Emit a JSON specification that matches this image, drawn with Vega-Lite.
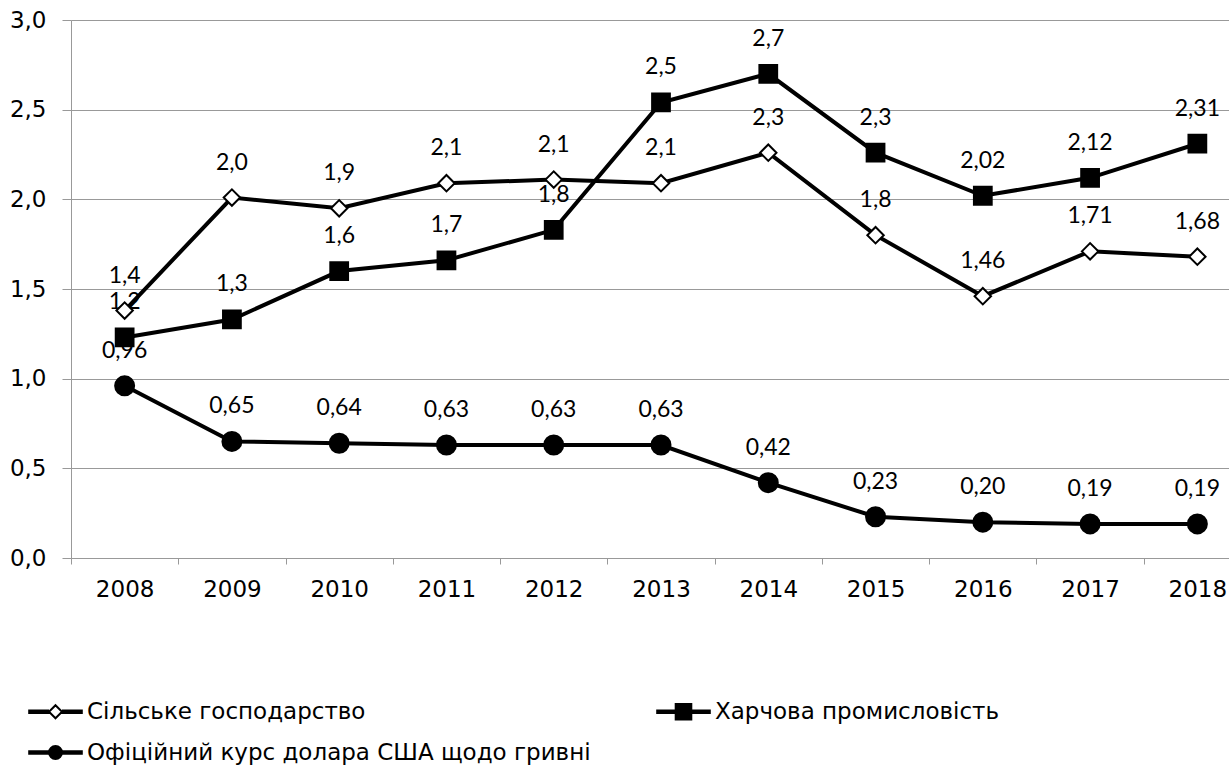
{
  "$schema": "https://vega.github.io/schema/vega-lite/v6.json",
  "width": 1180,
  "height": 538,
  "autosize": {"type": "none"},
  "padding": {"left": 71, "top": 20, "right": 0, "bottom": 207},
  "background": "white",
  "config": {"view": {"stroke": null}, "font": "DejaVu Sans"},
  "data": {
    "values": [
      {"year": "2008", "series": "Сільське господарство", "value": 1.38, "label": "1,4"},
      {"year": "2009", "series": "Сільське господарство", "value": 2.01, "label": "2,0"},
      {"year": "2010", "series": "Сільське господарство", "value": 1.95, "label": "1,9"},
      {"year": "2011", "series": "Сільське господарство", "value": 2.09, "label": "2,1"},
      {"year": "2012", "series": "Сільське господарство", "value": 2.11, "label": "2,1"},
      {"year": "2013", "series": "Сільське господарство", "value": 2.09, "label": "2,1"},
      {"year": "2014", "series": "Сільське господарство", "value": 2.26, "label": "2,3"},
      {"year": "2015", "series": "Сільське господарство", "value": 1.80, "label": "1,8"},
      {"year": "2016", "series": "Сільське господарство", "value": 1.46, "label": "1,46"},
      {"year": "2017", "series": "Сільське господарство", "value": 1.71, "label": "1,71"},
      {"year": "2018", "series": "Сільське господарство", "value": 1.68, "label": "1,68"},
      {"year": "2008", "series": "Харчова промисловість", "value": 1.23, "label": "1,2"},
      {"year": "2009", "series": "Харчова промисловість", "value": 1.33, "label": "1,3"},
      {"year": "2010", "series": "Харчова промисловість", "value": 1.60, "label": "1,6"},
      {"year": "2011", "series": "Харчова промисловість", "value": 1.66, "label": "1,7"},
      {"year": "2012", "series": "Харчова промисловість", "value": 1.83, "label": "1,8"},
      {"year": "2013", "series": "Харчова промисловість", "value": 2.54, "label": "2,5"},
      {"year": "2014", "series": "Харчова промисловість", "value": 2.70, "label": "2,7"},
      {"year": "2015", "series": "Харчова промисловість", "value": 2.26, "label": "2,3"},
      {"year": "2016", "series": "Харчова промисловість", "value": 2.02, "label": "2,02"},
      {"year": "2017", "series": "Харчова промисловість", "value": 2.12, "label": "2,12"},
      {"year": "2018", "series": "Харчова промисловість", "value": 2.31, "label": "2,31"},
      {"year": "2008", "series": "Офіційний курс долара США щодо гривні", "value": 0.96, "label": "0,96"},
      {"year": "2009", "series": "Офіційний курс долара США щодо гривні", "value": 0.65, "label": "0,65"},
      {"year": "2010", "series": "Офіційний курс долара США щодо гривні", "value": 0.64, "label": "0,64"},
      {"year": "2011", "series": "Офіційний курс долара США щодо гривні", "value": 0.63, "label": "0,63"},
      {"year": "2012", "series": "Офіційний курс долара США щодо гривні", "value": 0.63, "label": "0,63"},
      {"year": "2013", "series": "Офіційний курс долара США щодо гривні", "value": 0.63, "label": "0,63"},
      {"year": "2014", "series": "Офіційний курс долара США щодо гривні", "value": 0.42, "label": "0,42"},
      {"year": "2015", "series": "Офіційний курс долара США щодо гривні", "value": 0.23, "label": "0,23"},
      {"year": "2016", "series": "Офіційний курс долара США щодо гривні", "value": 0.20, "label": "0,20"},
      {"year": "2017", "series": "Офіційний курс долара США щодо гривні", "value": 0.19, "label": "0,19"},
      {"year": "2018", "series": "Офіційний курс долара США щодо гривні", "value": 0.19, "label": "0,19"}
    ]
  },
  "encoding": {
    "x": {
      "field": "year",
      "type": "ordinal",
      "scale": {"type": "band", "paddingInner": 0, "paddingOuter": 0},
      "axis": {
        "title": null,
        "grid": false,
        "tickBand": "extent",
        "labelAngle": 0,
        "domainColor": "#999999",
        "tickColor": "#999999",
        "tickSize": 6,
        "labelPadding": 14,
        "labelFontSize": 23,
        "labelColor": "black",
        "labelFont": "DejaVu Sans"
      }
    },
    "y": {
      "field": "value",
      "type": "quantitative",
      "scale": {"domain": [0, 3], "nice": false},
      "axis": {
        "title": null,
        "values": [0, 0.5, 1, 1.5, 2, 2.5, 3],
        "labelExpr": "replace(format(datum.value, '.1f'), '.', ',')",
        "gridColor": "#999999",
        "domainColor": "#999999",
        "tickColor": "#999999",
        "tickSize": 9,
        "labelPadding": 16,
        "labelFontSize": 23,
        "labelColor": "black",
        "labelFont": "DejaVu Sans"
      }
    }
  },
  "layer": [
    {
      "mark": {"type": "text", "dy": -35, "fontSize": 23, "font": "Lato", "fill": "black"},
      "encoding": {"text": {"field": "label"}}
    },
    {
      "mark": {"type": "line", "color": "black", "strokeWidth": 4},
      "encoding": {"detail": {"field": "series"}}
    },
    {
      "mark": {"type": "point", "filled": true, "stroke": "black", "strokeWidth": 2, "opacity": 1},
      "encoding": {
        "shape": {"field": "series", "scale": {"domain": ["Сільське господарство", "Харчова промисловість", "Офіційний курс долара США щодо гривні"], "range": ["diamond", "square", "circle"]}, "legend": null},
        "fill": {"field": "series", "scale": {"domain": ["Сільське господарство", "Харчова промисловість", "Офіційний курс долара США щодо гривні"], "range": ["white", "black", "black"]}, "legend": null},
        "size": {"field": "series", "type": "nominal", "scale": {"domain": ["Сільське господарство", "Харчова промисловість", "Офіційний курс долара США щодо гривні"], "range": [270, 361, 283]}, "legend": null}
      }
    },
    {
      "transform": [{"filter": "false"}],
      "mark": {"type": "point", "filled": true, "strokeWidth": 2, "opacity": 1},
      "encoding": {
        "shape": {
          "field": "series",
          "scale": {
            "domain": ["Сільське господарство", "Харчова промисловість", "Офіційний курс долара США щодо гривні"],
            "range": [
              "M-4.2,-0.2H-1M-4.2,0.2H-1M1,-0.2H4.2M1,0.2H4.2M-4.2,0H-1M1,0H4.2M0,-1L1,0L0,1L-1,0Z",
              "M-4.2,-0.2H-1.2M-4.2,0.2H-1.2M1.2,-0.2H4.2M1.2,0.2H4.2M-4.2,0H-1.2M1.2,0H4.2M-1.2,-1.2H1.2V1.2H-1.2Z",
              "M-4.2,-0.2H-1M-4.2,0.2H-1M1,-0.2H4.2M1,0.2H4.2M-4.2,0H-1M1,0H4.2M-1,0A1,1,0,1,0,1,0A1,1,0,1,0,-1,0Z"
            ]
          },
          "legend": {
            "title": null,
            "orient": "none",
            "legendX": -27,
            "legendY": 680,
            "direction": "horizontal",
            "columns": 2,
            "symbolSize": 169,
            "symbolStrokeWidth": 2,
            "labelFont": "DejaVu Sans",
            "labelFontSize": 23,
            "labelColor": "black",
            "labelOffset": 20,
            "labelLimit": 0,
            "columnPadding": 61,
            "rowPadding": 17
          }
        },
        "fill": {
          "field": "series",
          "scale": {"domain": ["Сільське господарство", "Харчова промисловість", "Офіційний курс долара США щодо гривні"], "range": ["white", "black", "black"]}
        },
        "stroke": {
          "field": "series",
          "scale": {"domain": ["Сільське господарство", "Харчова промисловість", "Офіційний курс долара США щодо гривні"], "range": ["black", "black", "black"]}
        }
      }
    }
  ],
  "resolve": {"scale": {"shape": "independent", "fill": "independent", "size": "independent", "stroke": "independent"}}
}
